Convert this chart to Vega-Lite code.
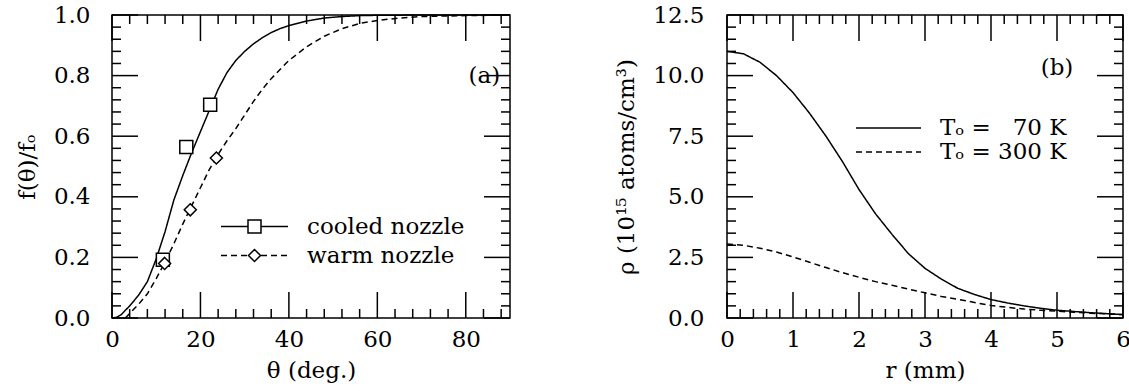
{
  "$schema": "https://vega.github.io/schema/vega-lite/v6.json",
  "padding": {"left": 15, "top": 3, "right": 0, "bottom": 0},
  "spacing": 101,
  "resolve": {"scale": {"strokeDash": "independent", "shape": "independent"}, "legend": {"strokeDash": "independent", "shape": "independent"}},
  "datasets": {
    "leftLines": [
      {"theta": 0, "f": 0.0, "series": "cooled nozzle"},
      {"theta": 1, "f": 0.002, "series": "cooled nozzle"},
      {"theta": 2, "f": 0.01, "series": "cooled nozzle"},
      {"theta": 4, "f": 0.04, "series": "cooled nozzle"},
      {"theta": 6, "f": 0.075, "series": "cooled nozzle"},
      {"theta": 8, "f": 0.12, "series": "cooled nozzle"},
      {"theta": 10, "f": 0.195, "series": "cooled nozzle"},
      {"theta": 12, "f": 0.285, "series": "cooled nozzle"},
      {"theta": 14, "f": 0.39, "series": "cooled nozzle"},
      {"theta": 16, "f": 0.47, "series": "cooled nozzle"},
      {"theta": 18, "f": 0.545, "series": "cooled nozzle"},
      {"theta": 20, "f": 0.615, "series": "cooled nozzle"},
      {"theta": 22, "f": 0.685, "series": "cooled nozzle"},
      {"theta": 24, "f": 0.755, "series": "cooled nozzle"},
      {"theta": 26, "f": 0.81, "series": "cooled nozzle"},
      {"theta": 28, "f": 0.85, "series": "cooled nozzle"},
      {"theta": 30, "f": 0.88, "series": "cooled nozzle"},
      {"theta": 32, "f": 0.905, "series": "cooled nozzle"},
      {"theta": 34, "f": 0.925, "series": "cooled nozzle"},
      {"theta": 36, "f": 0.942, "series": "cooled nozzle"},
      {"theta": 38, "f": 0.955, "series": "cooled nozzle"},
      {"theta": 40, "f": 0.965, "series": "cooled nozzle"},
      {"theta": 44, "f": 0.98, "series": "cooled nozzle"},
      {"theta": 48, "f": 0.99, "series": "cooled nozzle"},
      {"theta": 52, "f": 0.995, "series": "cooled nozzle"},
      {"theta": 56, "f": 0.998, "series": "cooled nozzle"},
      {"theta": 60, "f": 0.999, "series": "cooled nozzle"},
      {"theta": 70, "f": 1.0, "series": "cooled nozzle"},
      {"theta": 90, "f": 1.0, "series": "cooled nozzle"},
      {"theta": 3, "f": 0.0, "series": "warm nozzle"},
      {"theta": 4, "f": 0.015, "series": "warm nozzle"},
      {"theta": 6, "f": 0.045, "series": "warm nozzle"},
      {"theta": 8, "f": 0.08, "series": "warm nozzle"},
      {"theta": 10, "f": 0.13, "series": "warm nozzle"},
      {"theta": 12, "f": 0.185, "series": "warm nozzle"},
      {"theta": 14, "f": 0.245, "series": "warm nozzle"},
      {"theta": 16, "f": 0.31, "series": "warm nozzle"},
      {"theta": 18, "f": 0.37, "series": "warm nozzle"},
      {"theta": 20, "f": 0.43, "series": "warm nozzle"},
      {"theta": 22, "f": 0.49, "series": "warm nozzle"},
      {"theta": 24, "f": 0.54, "series": "warm nozzle"},
      {"theta": 26, "f": 0.585, "series": "warm nozzle"},
      {"theta": 28, "f": 0.625, "series": "warm nozzle"},
      {"theta": 30, "f": 0.67, "series": "warm nozzle"},
      {"theta": 32, "f": 0.715, "series": "warm nozzle"},
      {"theta": 34, "f": 0.755, "series": "warm nozzle"},
      {"theta": 36, "f": 0.79, "series": "warm nozzle"},
      {"theta": 38, "f": 0.82, "series": "warm nozzle"},
      {"theta": 40, "f": 0.85, "series": "warm nozzle"},
      {"theta": 44, "f": 0.895, "series": "warm nozzle"},
      {"theta": 48, "f": 0.93, "series": "warm nozzle"},
      {"theta": 52, "f": 0.955, "series": "warm nozzle"},
      {"theta": 56, "f": 0.972, "series": "warm nozzle"},
      {"theta": 60, "f": 0.982, "series": "warm nozzle"},
      {"theta": 65, "f": 0.99, "series": "warm nozzle"},
      {"theta": 70, "f": 0.995, "series": "warm nozzle"},
      {"theta": 80, "f": 0.998, "series": "warm nozzle"},
      {"theta": 90, "f": 1.0, "series": "warm nozzle"}
    ],
    "leftPoints": [
      {"theta": 11.5, "f": 0.192, "series": "cooled nozzle"},
      {"theta": 16.8, "f": 0.564, "series": "cooled nozzle"},
      {"theta": 22.2, "f": 0.704, "series": "cooled nozzle"},
      {"theta": 11.9, "f": 0.18, "series": "warm nozzle"},
      {"theta": 17.7, "f": 0.357, "series": "warm nozzle"},
      {"theta": 23.6, "f": 0.528, "series": "warm nozzle"}
    ],
    "rightLines": [
      {"r": 0, "rho": 11.0, "series": "Tₒ = \u200770 K"},
      {"r": 0.25, "rho": 10.9, "series": "Tₒ = \u200770 K"},
      {"r": 0.5, "rho": 10.55, "series": "Tₒ = \u200770 K"},
      {"r": 0.75, "rho": 10.0, "series": "Tₒ = \u200770 K"},
      {"r": 1.0, "rho": 9.3, "series": "Tₒ = \u200770 K"},
      {"r": 1.25, "rho": 8.45, "series": "Tₒ = \u200770 K"},
      {"r": 1.5, "rho": 7.5, "series": "Tₒ = \u200770 K"},
      {"r": 1.75, "rho": 6.45, "series": "Tₒ = \u200770 K"},
      {"r": 2.0, "rho": 5.3, "series": "Tₒ = \u200770 K"},
      {"r": 2.25, "rho": 4.3, "series": "Tₒ = \u200770 K"},
      {"r": 2.5, "rho": 3.45, "series": "Tₒ = \u200770 K"},
      {"r": 2.75, "rho": 2.65, "series": "Tₒ = \u200770 K"},
      {"r": 3.0, "rho": 2.05, "series": "Tₒ = \u200770 K"},
      {"r": 3.25, "rho": 1.6, "series": "Tₒ = \u200770 K"},
      {"r": 3.5, "rho": 1.22, "series": "Tₒ = \u200770 K"},
      {"r": 3.75, "rho": 0.97, "series": "Tₒ = \u200770 K"},
      {"r": 4.0, "rho": 0.76, "series": "Tₒ = \u200770 K"},
      {"r": 4.25, "rho": 0.62, "series": "Tₒ = \u200770 K"},
      {"r": 4.5, "rho": 0.5, "series": "Tₒ = \u200770 K"},
      {"r": 4.75, "rho": 0.4, "series": "Tₒ = \u200770 K"},
      {"r": 5.0, "rho": 0.32, "series": "Tₒ = \u200770 K"},
      {"r": 5.5, "rho": 0.22, "series": "Tₒ = \u200770 K"},
      {"r": 6.0, "rho": 0.14, "series": "Tₒ = \u200770 K"},
      {"r": 0, "rho": 3.05, "series": "Tₒ = 300 K"},
      {"r": 0.25, "rho": 3.0, "series": "Tₒ = 300 K"},
      {"r": 0.5, "rho": 2.88, "series": "Tₒ = 300 K"},
      {"r": 0.75, "rho": 2.72, "series": "Tₒ = 300 K"},
      {"r": 1.0, "rho": 2.52, "series": "Tₒ = 300 K"},
      {"r": 1.25, "rho": 2.3, "series": "Tₒ = 300 K"},
      {"r": 1.5, "rho": 2.08, "series": "Tₒ = 300 K"},
      {"r": 1.75, "rho": 1.87, "series": "Tₒ = 300 K"},
      {"r": 2.0, "rho": 1.68, "series": "Tₒ = 300 K"},
      {"r": 2.25, "rho": 1.5, "series": "Tₒ = 300 K"},
      {"r": 2.5, "rho": 1.35, "series": "Tₒ = 300 K"},
      {"r": 2.75, "rho": 1.19, "series": "Tₒ = 300 K"},
      {"r": 3.0, "rho": 1.04, "series": "Tₒ = 300 K"},
      {"r": 3.25, "rho": 0.89, "series": "Tₒ = 300 K"},
      {"r": 3.5, "rho": 0.77, "series": "Tₒ = 300 K"},
      {"r": 3.75, "rho": 0.64, "series": "Tₒ = 300 K"},
      {"r": 4.0, "rho": 0.52, "series": "Tₒ = 300 K"},
      {"r": 4.25, "rho": 0.44, "series": "Tₒ = 300 K"},
      {"r": 4.5, "rho": 0.37, "series": "Tₒ = 300 K"},
      {"r": 4.75, "rho": 0.32, "series": "Tₒ = 300 K"},
      {"r": 5.0, "rho": 0.28, "series": "Tₒ = 300 K"},
      {"r": 5.5, "rho": 0.2, "series": "Tₒ = 300 K"},
      {"r": 6.0, "rho": 0.14, "series": "Tₒ = 300 K"}
    ],
    "leftXTicks": [
      {"pos": 0, "kind": "major"}, {"pos": 4, "kind": "minor"}, {"pos": 8, "kind": "minor"}, {"pos": 12, "kind": "minor"}, {"pos": 16, "kind": "minor"},
      {"pos": 20, "kind": "major"}, {"pos": 24, "kind": "minor"}, {"pos": 28, "kind": "minor"}, {"pos": 32, "kind": "minor"}, {"pos": 36, "kind": "minor"},
      {"pos": 40, "kind": "major"}, {"pos": 44, "kind": "minor"}, {"pos": 48, "kind": "minor"}, {"pos": 52, "kind": "minor"}, {"pos": 56, "kind": "minor"},
      {"pos": 60, "kind": "major"}, {"pos": 64, "kind": "minor"}, {"pos": 68, "kind": "minor"}, {"pos": 72, "kind": "minor"}, {"pos": 76, "kind": "minor"},
      {"pos": 80, "kind": "major"}, {"pos": 84, "kind": "minor"}, {"pos": 88, "kind": "minor"}
    ],
    "leftYTicks": [
      {"pos": 0, "kind": "major"}, {"pos": 0.04, "kind": "minor"}, {"pos": 0.08, "kind": "minor"}, {"pos": 0.12, "kind": "minor"}, {"pos": 0.16, "kind": "minor"},
      {"pos": 0.2, "kind": "major"}, {"pos": 0.24, "kind": "minor"}, {"pos": 0.28, "kind": "minor"}, {"pos": 0.32, "kind": "minor"}, {"pos": 0.36, "kind": "minor"},
      {"pos": 0.4, "kind": "major"}, {"pos": 0.44, "kind": "minor"}, {"pos": 0.48, "kind": "minor"}, {"pos": 0.52, "kind": "minor"}, {"pos": 0.56, "kind": "minor"},
      {"pos": 0.6, "kind": "major"}, {"pos": 0.64, "kind": "minor"}, {"pos": 0.68, "kind": "minor"}, {"pos": 0.72, "kind": "minor"}, {"pos": 0.76, "kind": "minor"},
      {"pos": 0.8, "kind": "major"}, {"pos": 0.84, "kind": "minor"}, {"pos": 0.88, "kind": "minor"}, {"pos": 0.92, "kind": "minor"}, {"pos": 0.96, "kind": "minor"},
      {"pos": 1.0, "kind": "major"}
    ],
    "rightXTicks": [
      {"pos": 0, "kind": "major"}, {"pos": 0.2, "kind": "minor"}, {"pos": 0.4, "kind": "minor"}, {"pos": 0.6, "kind": "minor"}, {"pos": 0.8, "kind": "minor"},
      {"pos": 1, "kind": "major"}, {"pos": 1.2, "kind": "minor"}, {"pos": 1.4, "kind": "minor"}, {"pos": 1.6, "kind": "minor"}, {"pos": 1.8, "kind": "minor"},
      {"pos": 2, "kind": "major"}, {"pos": 2.2, "kind": "minor"}, {"pos": 2.4, "kind": "minor"}, {"pos": 2.6, "kind": "minor"}, {"pos": 2.8, "kind": "minor"},
      {"pos": 3, "kind": "major"}, {"pos": 3.2, "kind": "minor"}, {"pos": 3.4, "kind": "minor"}, {"pos": 3.6, "kind": "minor"}, {"pos": 3.8, "kind": "minor"},
      {"pos": 4, "kind": "major"}, {"pos": 4.2, "kind": "minor"}, {"pos": 4.4, "kind": "minor"}, {"pos": 4.6, "kind": "minor"}, {"pos": 4.8, "kind": "minor"},
      {"pos": 5, "kind": "major"}, {"pos": 5.2, "kind": "minor"}, {"pos": 5.4, "kind": "minor"}, {"pos": 5.6, "kind": "minor"}, {"pos": 5.8, "kind": "minor"},
      {"pos": 6, "kind": "major"}
    ],
    "rightYTicks": [
      {"pos": 0, "kind": "major"}, {"pos": 0.5, "kind": "minor"}, {"pos": 1, "kind": "minor"}, {"pos": 1.5, "kind": "minor"}, {"pos": 2, "kind": "minor"},
      {"pos": 2.5, "kind": "major"}, {"pos": 3, "kind": "minor"}, {"pos": 3.5, "kind": "minor"}, {"pos": 4, "kind": "minor"}, {"pos": 4.5, "kind": "minor"},
      {"pos": 5, "kind": "major"}, {"pos": 5.5, "kind": "minor"}, {"pos": 6, "kind": "minor"}, {"pos": 6.5, "kind": "minor"}, {"pos": 7, "kind": "minor"},
      {"pos": 7.5, "kind": "major"}, {"pos": 8, "kind": "minor"}, {"pos": 8.5, "kind": "minor"}, {"pos": 9, "kind": "minor"}, {"pos": 9.5, "kind": "minor"},
      {"pos": 10, "kind": "major"}, {"pos": 10.5, "kind": "minor"}, {"pos": 11, "kind": "minor"}, {"pos": 11.5, "kind": "minor"}, {"pos": 12, "kind": "minor"},
      {"pos": 12.5, "kind": "major"}
    ],
    "labelA": [{"label": "(a)"}],
    "labelB": [{"label": "(b)"}]
  },
  "hconcat": [
    {
      "width": 398,
      "height": 303,
      "layer": [
        {
          "data": {"name": "leftXTicks"},
          "mark": {"type": "point", "shape": "M0,0L0,-1", "filled": false, "stroke": "black", "strokeWidth": 1.5, "opacity": 1},
          "encoding": {
            "x": {"field": "pos", "type": "quantitative", "scale": {"domain": [0, 90], "nice": false}, "axis": null},
            "y": {"value": "height"},
            "size": {"condition": {"test": "datum.kind === 'major'", "value": 2704}, "value": 324}
          }
        },
        {
          "data": {"name": "leftXTicks"},
          "mark": {"type": "point", "shape": "M0,0L0,1", "filled": false, "stroke": "black", "strokeWidth": 1.5, "opacity": 1},
          "encoding": {
            "x": {"field": "pos", "type": "quantitative", "scale": {"domain": [0, 90], "nice": false}, "axis": null},
            "y": {"value": 0},
            "size": {"condition": {"test": "datum.kind === 'major'", "value": 2704}, "value": 324}
          }
        },
        {
          "data": {"name": "leftYTicks"},
          "mark": {"type": "point", "shape": "M0,0L1,0", "filled": false, "stroke": "black", "strokeWidth": 1.5, "opacity": 1},
          "encoding": {
            "x": {"value": 0},
            "y": {"field": "pos", "type": "quantitative", "scale": {"domain": [0, 1], "nice": false}, "axis": null},
            "size": {"condition": {"test": "datum.kind === 'major'", "value": 2704}, "value": 324}
          }
        },
        {
          "data": {"name": "leftYTicks"},
          "mark": {"type": "point", "shape": "M0,0L-1,0", "filled": false, "stroke": "black", "strokeWidth": 1.5, "opacity": 1},
          "encoding": {
            "x": {"value": "width"},
            "y": {"field": "pos", "type": "quantitative", "scale": {"domain": [0, 1], "nice": false}, "axis": null},
            "size": {"condition": {"test": "datum.kind === 'major'", "value": 2704}, "value": 324}
          }
        },
        {
          "data": {"name": "leftLines"},
          "mark": {"type": "line", "color": "black", "strokeWidth": 1.5},
          "encoding": {
            "x": {"field": "theta", "type": "quantitative", "scale": {"domain": [0, 90], "nice": false},
              "axis": {"orient": "bottom", "values": [0, 20, 40, 60, 80], "format": "d", "ticks": false,
                "labelPadding": 10, "title": "θ (deg.)", "titlePadding": 8}},
            "y": {"field": "f", "type": "quantitative", "scale": {"domain": [0, 1], "nice": false},
              "axis": {"orient": "left", "values": [0, 0.2, 0.4, 0.6, 0.8, 1], "format": ".1f", "ticks": false,
                "labelPadding": 22, "title": "f(θ)/fₒ", "titlePadding": 14}},
            "strokeDash": {"field": "series", "type": "nominal",
              "scale": {"domain": ["cooled nozzle", "warm nozzle"], "range": [[1, 0], [6, 4]]},
              "legend": {"orient": "none", "legendX": 108, "legendY": 197, "title": null, "symbolType": "stroke", "symbolSize": 4489,
                "symbolStrokeWidth": 1.5, "symbolStrokeColor": "black", "clipHeight": 29, "labelOffset": 18, "padding": 0, "rowPadding": 0}}
          }
        },
        {
          "data": {"name": "leftPoints"},
          "mark": {"type": "point", "size": 4489, "strokeWidth": 1.5, "stroke": "black", "fill": "white", "filled": true, "opacity": 1},
          "encoding": {
            "x": {"field": "theta", "type": "quantitative", "scale": {"domain": [0, 90], "nice": false}, "axis": null},
            "y": {"field": "f", "type": "quantitative", "scale": {"domain": [0, 1], "nice": false}, "axis": null},
            "shape": {"field": "series", "type": "nominal",
              "scale": {"range": ["M-0.194,-0.194H0.194V0.194H-0.194Z", "M0,-0.18L0.18,0L0,0.18L-0.18,0Z"]},
              "legend": {"orient": "none", "legendX": 108, "legendY": 197, "title": null, "symbolSize": 4489,
                "clipHeight": 29, "labelOffset": 18, "padding": 0, "rowPadding": 0, "labelOpacity": 0, "zindex": 1,
                "encode": {"symbols": {"update": {"stroke": {"value": "black"}, "fill": {"value": "white"}, "strokeWidth": {"value": 1.5}, "opacity": {"value": 1}}}}}}
          }
        },
        {
          "data": {"name": "labelA"},
          "mark": {"type": "text", "font": "DejaVu Serif", "fontSize": 23, "color": "black"},
          "encoding": {
            "x": {"datum": 84.2, "type": "quantitative", "scale": {"domain": [0, 90], "nice": false}, "axis": null},
            "y": {"datum": 0.8, "type": "quantitative", "scale": {"domain": [0, 1], "nice": false}, "axis": null},
            "text": {"field": "label"}
          }
        }
      ],
      "resolve": {"axis": {"x": "independent", "y": "independent"}}
    },
    {
      "width": 396,
      "height": 303,
      "layer": [
        {
          "data": {"name": "rightXTicks"},
          "mark": {"type": "point", "shape": "M0,0L0,-1", "filled": false, "stroke": "black", "strokeWidth": 1.5, "opacity": 1},
          "encoding": {
            "x": {"field": "pos", "type": "quantitative", "scale": {"domain": [0, 6], "nice": false}, "axis": null},
            "y": {"value": "height"},
            "size": {"condition": {"test": "datum.kind === 'major'", "value": 2704}, "value": 324}
          }
        },
        {
          "data": {"name": "rightXTicks"},
          "mark": {"type": "point", "shape": "M0,0L0,1", "filled": false, "stroke": "black", "strokeWidth": 1.5, "opacity": 1},
          "encoding": {
            "x": {"field": "pos", "type": "quantitative", "scale": {"domain": [0, 6], "nice": false}, "axis": null},
            "y": {"value": 0},
            "size": {"condition": {"test": "datum.kind === 'major'", "value": 2704}, "value": 324}
          }
        },
        {
          "data": {"name": "rightYTicks"},
          "mark": {"type": "point", "shape": "M0,0L1,0", "filled": false, "stroke": "black", "strokeWidth": 1.5, "opacity": 1},
          "encoding": {
            "x": {"value": 0},
            "y": {"field": "pos", "type": "quantitative", "scale": {"domain": [0, 12.5], "nice": false}, "axis": null},
            "size": {"condition": {"test": "datum.kind === 'major'", "value": 2704}, "value": 324}
          }
        },
        {
          "data": {"name": "rightYTicks"},
          "mark": {"type": "point", "shape": "M0,0L-1,0", "filled": false, "stroke": "black", "strokeWidth": 1.5, "opacity": 1},
          "encoding": {
            "x": {"value": "width"},
            "y": {"field": "pos", "type": "quantitative", "scale": {"domain": [0, 12.5], "nice": false}, "axis": null},
            "size": {"condition": {"test": "datum.kind === 'major'", "value": 2704}, "value": 324}
          }
        },
        {
          "data": {"name": "rightLines"},
          "mark": {"type": "line", "color": "black", "strokeWidth": 1.5},
          "encoding": {
            "x": {"field": "r", "type": "quantitative", "scale": {"domain": [0, 6], "nice": false},
              "axis": {"orient": "bottom", "values": [0, 1, 2, 3, 4, 5, 6], "format": "d", "ticks": false,
                "labelPadding": 10, "title": "r (mm)", "titlePadding": 8}},
            "y": {"field": "rho", "type": "quantitative", "scale": {"domain": [0, 12.5], "nice": false},
              "axis": {"orient": "left", "values": [0, 2.5, 5, 7.5, 10, 12.5], "format": ".1f", "ticks": false,
                "labelPadding": 23, "title": "ρ (10¹⁵ atoms/cm³)", "titlePadding": 14}},
            "strokeDash": {"field": "series", "type": "nominal",
              "scale": {"domain": ["Tₒ = \u200770 K", "Tₒ = 300 K"], "range": [[1, 0], [6, 4]]},
              "legend": {"orient": "none", "legendX": 128, "legendY": 101, "title": null, "symbolType": "stroke", "symbolSize": 4225,
                "symbolStrokeWidth": 1.5, "symbolStrokeColor": "black", "clipHeight": 24, "labelOffset": 18, "padding": 0, "rowPadding": 0}}
          }
        },
        {
          "data": {"name": "labelB"},
          "mark": {"type": "text", "font": "DejaVu Serif", "fontSize": 23, "color": "black"},
          "encoding": {
            "x": {"datum": 5.0, "type": "quantitative", "scale": {"domain": [0, 6], "nice": false}, "axis": null},
            "y": {"datum": 10.3, "type": "quantitative", "scale": {"domain": [0, 12.5], "nice": false}, "axis": null},
            "text": {"field": "label"}
          }
        }
      ],
      "resolve": {"axis": {"x": "independent", "y": "independent"}}
    }
  ],
  "config": {
    "font": "DejaVu Serif",
    "view": {"stroke": "black", "strokeWidth": 1.5},
    "axis": {"labelFont": "DejaVu Serif", "labelFontSize": 23, "labelColor": "black", "titleFont": "DejaVu Serif", "titleFontSize": 23,
      "titleFontWeight": "normal", "titleColor": "black", "domain": false, "grid": false,
      "labelFlush": false, "labelOverlap": false, "labelBound": false},
    "legend": {"labelFont": "DejaVu Serif", "labelFontSize": 23, "labelColor": "black", "labelLimit": 400}
  }
}
